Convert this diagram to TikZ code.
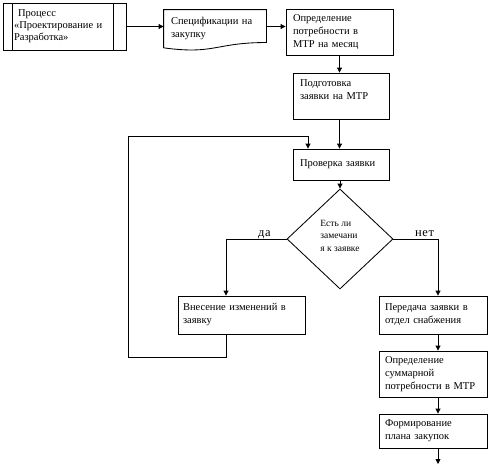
\documentclass[tikz,border=0pt]{standalone}
\usepackage{fontspec}
\setmainfont{Liberation Serif}
\usepackage{tikz}
\usetikzlibrary{arrows.meta,positioning,calc,shapes.geometric}

\begin{document}
\begin{tikzpicture}[x=1pt,y=-1pt,line width=0.85pt,
    box/.style={draw,rectangle,align=left,inner xsep=7pt,inner ysep=2pt,font=\fontsize{10.5}{13}\selectfont},
    answer/.style={anchor=base,font=\fontsize{12.5}{14}\selectfont\addfontfeature{LetterSpace=5}},
    arr/.style={-{Triangle[length=5pt,width=5pt]}}]
  \useasboundingbox (0,0) rectangle (493,466);
  % top row
  \node[box,inner xsep=11pt,text width=101pt,minimum height=47pt,font=\fontsize{10.5}{12}\selectfont] (proc) at (64.5,26.5) {\hspace*{4pt}Процесс\\«Проектирование и\\Разработка»};
  \draw ([xshift=10]proc.north west) -- ([xshift=10]proc.south west);
  \draw ([xshift=-13]proc.north east) -- ([xshift=-13]proc.south east);
  \node[box,draw=none,text width=88pt,minimum height=37.4pt] (spec) at (215,28.7) {Спецификации на\\закупку};
  \draw (spec.south west) -- (spec.north west) -- (spec.north east) -- ([yshift=5.3]spec.south east)
    .. controls ([yshift=5.3]spec.south) and ([yshift=-7]spec.south) .. (spec.south west);
  \node[box,text width=93pt,minimum height=46pt] (need) at (339.5,32) {Определение\\потребности в\\МТР на месяц};
  % middle column
  \node[box,text width=82pt,minimum height=46pt] (prep) at (341,96) {Подготовка\\заявки на МТР\\~};
  \node[box,text width=82pt,minimum height=31pt] (check) at (341,164.5) {Проверка заявки};
  \node[draw,diamond,minimum width=106pt,minimum height=100pt,inner sep=0pt,align=left,font=\fontsize{9.5}{12.5}\selectfont] (dia) at (340,239) {Есть ли\\замечани\\я к заявке\\[-6pt]};
  \node[answer] (yes) at (264.5,236.5) {да};
  \node[answer] (no) at (424.5,236.5) {нет};
  \node[box,inner xsep=5pt,text width=117pt,minimum height=38pt] (fix) at (241.5,315) {Внесение изменений в\\заявку};
  % right column
  \node[box,inner xsep=6pt,text width=96pt,minimum height=38pt] (send) at (433,315) {Передача заявки в\\отдел снабжения};
  \node[box,inner xsep=6pt,text width=96pt,minimum height=46pt] (total) at (433,374) {Определение\\суммарной\\потребности в МТР};
  \node[box,inner xsep=6pt,text width=96pt,minimum height=34pt] (plan) at (433,431) {Формирование\\плана закупок};
  \coordinate (out) at (438,464);
  \coordinate (back) at (128,136);
  % connectors
  \draw[arr] (proc.east) -- (proc.east -| spec.west);
  \draw[arr] (spec.east |- proc.east) -- (need.west |- proc.east);
  \draw[arr] (need.south) -- (need.south |- prep.north);
  \draw[arr] (need.south |- prep.south) -- (need.south |- check.north);
  \draw[arr] (dia.north |- check.south) -- (dia.north);
  \draw[arr] (dia.west) -| ([xshift=-15.5]fix.north);
  \draw[arr] (dia.east) -| (send.north -| out);
  \draw[arr] (send.south -| out) -- (total.north -| out);
  \draw[arr] (total.south -| out) -- (plan.north -| out);
  \draw[arr] (plan.south -| out) -- (out);
  \draw[arr] ([xshift=-15.5]fix.south) -- ++(0,23) -| (back) -| ([xshift=-33]check.north);
\end{tikzpicture}
\end{document}
